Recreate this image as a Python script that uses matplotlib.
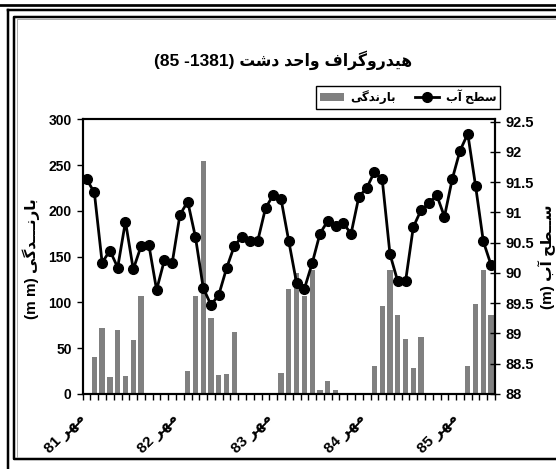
import numpy as np
import matplotlib
matplotlib.use("Agg")
import matplotlib.pyplot as plt
import matplotlib.transforms as mtransforms
from matplotlib.lines import Line2D

plt.rcParams['font.family'] = ['Liberation Sans', 'DejaVu Sans']
plt.rcParams['font.weight'] = 'bold'

# monthly values, from mehr 1381 to bahman 1385
rain = [0, 40.8, 72.4, 18.2, 70.3, 19.3, 59, 106.7, 0, 0, 0, 0,
        0, 25.5, 106.7, 254.5, 82.6, 20.4, 21.8, 67.3, 0, 0, 0, 0,
        0, 22.9, 114.7, 132, 106.7, 135.4, 4.4, 14.2, 4.4, 0, 0, 0,
        0, 30.6, 96.5, 135.4, 86.3, 60, 28.4, 62.6, 1, 0, 0, 0,
        0, 30.6, 98.3, 135.4, 86.3]
level = [91.55, 91.33, 90.17, 90.37, 90.09, 90.85, 90.06, 90.44, 90.47, 89.72, 90.21, 90.16,
         90.96, 91.18, 90.59, 89.75, 89.47, 89.64, 90.08, 90.45, 90.60, 90.52, 90.53, 91.07,
         91.29, 91.22, 90.52, 89.83, 89.74, 90.16, 90.65, 90.86, 90.78, 90.82, 90.65, 91.26,
         91.40, 91.67, 91.55, 90.31, 89.86, 89.86, 90.76, 91.04, 91.15, 91.29, 90.93, 91.55,
         92.02, 92.30, 91.44, 90.52, 90.13]
years = ['81', '82', '83', '84', '85']
year_pos = [0, 12, 24, 36, 48]

# contextual forms: isolated, final, initial, medial
FORMS = {
    'ا': ('\uFE8D', '\uFE8E', None, None),
    'آ': ('\uFE81', '\uFE82', None, None),
    'ب': ('\uFE8F', '\uFE90', '\uFE91', '\uFE92'),
    'ت': ('\uFE95', '\uFE96', '\uFE97', '\uFE98'),
    'ح': ('\uFEA1', '\uFEA2', '\uFEA3', '\uFEA4'),
    'د': ('\uFEA9', '\uFEAA', None, None),
    'ر': ('\uFEAD', '\uFEAE', None, None),
    'س': ('\uFEB1', '\uFEB2', '\uFEB3', '\uFEB4'),
    'ش': ('\uFEB5', '\uFEB6', '\uFEB7', '\uFEB8'),
    'ط': ('\uFEC1', '\uFEC2', '\uFEC3', '\uFEC4'),
    'ف': ('\uFED1', '\uFED2', '\uFED3', '\uFED4'),
    'م': ('\uFEE1', '\uFEE2', '\uFEE3', '\uFEE4'),
    'ن': ('\uFEE5', '\uFEE6', '\uFEE7', '\uFEE8'),
    'ه': ('\uFEE9', '\uFEEA', '\uFEEB', '\uFEEC'),
    'و': ('\uFEED', '\uFEEE', None, None),
    'ی': ('\uFBFC', '\uFBFD', '\uFBFE', '\uFBFF'),
    'گ': ('\uFB92', '\uFB93', '\uFB94', '\uFB95'),
}
TATWEEL = '\u0640'


def dual(c):
    return c == TATWEEL or (c in FORMS and FORMS[c][2] is not None)


def joining(c):
    return c == TATWEEL or c in FORMS


def fa(text):
    # shape persian letters and put them in visual (left to right) order
    out = []
    for i, c in enumerate(text):
        if c not in FORMS:
            out.append(c)
            continue
        prev = text[i - 1] if i > 0 else ''
        nxt = text[i + 1] if i + 1 < len(text) else ''
        jp = dual(prev)
        jn = dual(c) and joining(nxt)
        iso, fin, ini, med = FORMS[c]
        if jp and jn:
            out.append(med)
        elif jp:
            out.append(fin)
        elif jn:
            out.append(ini)
        else:
            out.append(iso)
    return ''.join(out)[::-1]


x = np.arange(len(rain))

fig = plt.figure(figsize=(5.56, 4.69), dpi=100)
ax = fig.add_axes([0.1487, 0.160, 0.7416, 0.5857])
bars = ax.bar(x, rain, width=0.68, color='#808080', zorder=2)
ax.set_xlim(-0.5, len(rain) - 0.5)
ax.set_ylim(0, 300)
ax.set_yticks(np.arange(0, 301, 50))
ax.tick_params(axis='y', direction='out', length=4, width=1, labelsize=10, pad=4)
ax.set_xticks(year_pos, [y + ' ' + fa('مهر') for y in years], rotation=45,
              ha='right', rotation_mode='anchor', fontsize=11, fontweight='bold')
ax.tick_params(axis='x', which='major', length=0, pad=12)
shift = mtransforms.ScaledTranslation(-9 / 100, 0, fig.dpi_scale_trans)
for lab in ax.get_xticklabels():
    lab.set_transform(lab.get_transform() + shift)
ax.set_xticks(np.arange(len(rain) + 1) - 0.5, minor=True)
ax.tick_params(axis='x', which='minor', direction='out', length=4, width=1)
for s in ax.spines.values():
    s.set_linewidth(1.5)

ax2 = ax.twinx()
line, = ax2.plot(x, level, color='black', lw=2, marker='o', ms=7, zorder=3)
ax2.set_ylim(88, 92.54)
ax2.set_yticks(np.arange(88, 92.51, 0.5))
ax2.set_yticklabels(['%g' % v for v in np.arange(88, 92.51, 0.5)])
ax2.tick_params(axis='y', direction='inout', length=7, width=1, labelsize=10.5, pad=4)
for s in ax2.spines.values():
    s.set_linewidth(1.5)

fig.text(0.056, 0.448, '(m m) ' + fa('بارنـــدگی'), rotation=90, ha='center', va='center',
         fontsize=11, fontweight='bold')
fig.text(0.984, 0.452, '(m) ' + fa('ســطح آب'), rotation=90, ha='center', va='center',
         fontsize=11, fontweight='bold')

fig.text(0.509, 0.872, '(85 -1381) ' + fa('هیدروگراف واحد دشت'), ha='center', va='center',
         fontsize=12.5, fontweight='bold', fontstretch='condensed')

leg = fig.legend([bars, line], [fa('بارندگی'), fa('سطح آب')], ncol=2, loc='center',
                 bbox_to_anchor=(0.734, 0.793), bbox_transform=fig.transFigure,
                 fancybox=False, edgecolor='black', framealpha=1, fontsize=8.5,
                 handlelength=2.0, handletextpad=0.6, columnspacing=1.6,
                 borderpad=0.35)
leg.get_frame().set_linewidth(1.0)

# page frame, drawn in pixel coordinates
frame = fig.add_axes([0, 0, 1, 1], zorder=-1)
frame.set_xlim(0, 556)
frame.set_ylim(469, 0)
frame.axis('off')
k = 0.72
frame.add_line(Line2D([0, 556], [5.3, 5.3], color='black', lw=2.7 * k))
frame.add_line(Line2D([7.8, 556], [10.5, 10.5], color='black', lw=2.5 * k))
frame.add_line(Line2D([7.8, 7.8], [10.5, 469], color='black', lw=2.5 * k))
frame.add_line(Line2D([556, 13.8, 13.8, 556], [17, 17, 459.5, 459.5], color='black', lw=2.5 * k))
frame.add_line(Line2D([556, 16.5, 16.5], [19.3, 19.3, 457], color='#999999', lw=0.8 * k))

fig.savefig('out.png', dpi=100)
